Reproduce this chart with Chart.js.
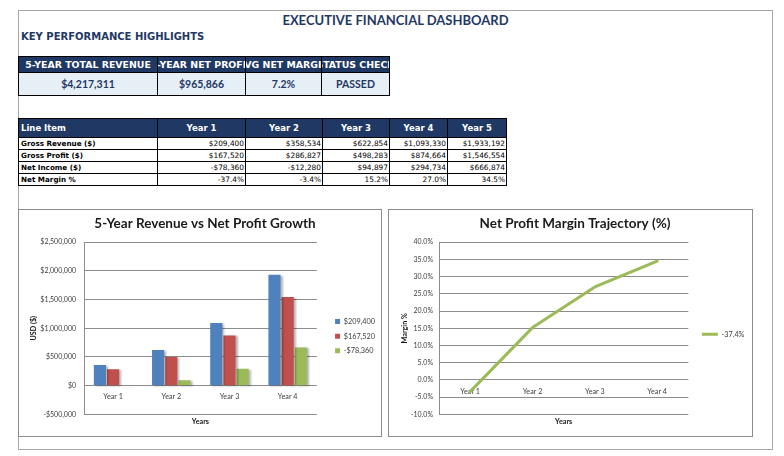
<!DOCTYPE html>
<html><head><meta charset="utf-8">
<script src="https://cdn.jsdelivr.net/npm/chart.js@4.4.1/dist/chart.umd.min.js"></script>
<style>
html,body{margin:0;padding:0;background:#fff;}
body{width:784px;height:456px;overflow:hidden;position:relative;font-family:"DejaVu Sans",sans-serif;}
#frame{position:absolute;left:18px;top:10px;width:755px;height:440px;border:1px solid #a6a6a6;box-sizing:border-box;}
#mainTitle{position:absolute;left:18px;width:755px;top:11px;text-align:center;font-family:Lato,sans-serif;font-weight:bold;font-size:13px;color:#1f3864;line-height:18px;}
#kpiTitle{position:absolute;left:21px;top:30px;font-family:"DejaVu Sans",sans-serif;font-weight:bold;font-size:10px;color:#1f3864;line-height:14px;}
.cell{position:absolute;box-sizing:border-box;border:1px solid #000;overflow:hidden;white-space:nowrap;}
.chartbox{position:absolute;border:1px solid #8c8c8c;box-sizing:border-box;background:#fff;}
canvas{position:absolute;left:0;top:0;}
</style>
</head><body>
<div id="frame"></div>
<div id="mainTitle">EXECUTIVE FINANCIAL DASHBOARD</div>
<div id="kpiTitle">KEY PERFORMANCE HIGHLIGHTS</div>
<div id="tables"></div>
<div class="chartbox" style="left:18px;top:209px;width:364px;height:228px;"><canvas id="c1" width="362" height="226"></canvas></div>
<div class="chartbox" style="left:388px;top:209px;width:365px;height:228px;"><canvas id="c2" width="363" height="226"></canvas></div>
<script>
// ---------- data ----------
const kpiHeaders = ['5-YEAR TOTAL REVENUE', '5-YEAR NET PROFIT', 'AVG NET MARGIN', 'STATUS CHECK'];
const kpiValues = ['$4,217,311', '$965,866', '7.2%', 'PASSED'];

const tableYears = ['Year 1', 'Year 2', 'Year 3', 'Year 4', 'Year 5'];
const rowLabels = ['Gross Revenue ($)', 'Gross Profit ($)', 'Net Income ($)', 'Net Margin %'];
const grossRevenueText = ['$209,400', '$358,534', '$622,854', '$1,093,330', '$1,933,192'];
const grossProfitText = ['$167,520', '$286,827', '$498,283', '$874,664', '$1,546,554'];
const netIncomeText = ['-$78,360', '-$12,280', '$94,897', '$294,734', '$666,874'];
const netMarginText = ['-37.4%', '-3.4%', '15.2%', '27.0%', '34.5%'];

const categories = ['Year 1', 'Year 2', 'Year 3', 'Year 4'];
const seriesNames = ['$209,400', '$167,520', '-$78,360'];
const revenueSeries = [358534, 622854, 1093330, 1933192];
const grossProfitSeries = [286827, 498283, 874664, 1546554];
const netIncomeSeries = [-12280, 94897, 294734, 666874];
const marginName = '-37.4%';
const marginSeries = [-3.4, 15.2, 27.0, 34.5];

// ---------- tables ----------
const NAVY = '#1f3864';
const host = document.getElementById('tables');
function cell(x0, x1, y0, y1, text, st) {
  const d = document.createElement('div');
  d.className = 'cell';
  d.style.left = x0 + 'px'; d.style.top = y0 + 'px';
  d.style.width = (x1 - x0 + 1) + 'px'; d.style.height = (y1 - y0 + 1) + 'px';
  d.style.lineHeight = (y1 - y0 - 1) + 'px';
  Object.assign(d.style, st || {});
  const s = document.createElement('span');
  s.textContent = text;
  d.appendChild(s);
  host.appendChild(d);
  return d;
}
const kpiCols = [18, 157, 245, 321, 389];
for (let i = 0; i < 4; i++) {
  const h = cell(kpiCols[i], kpiCols[i + 1], 56, 72, kpiHeaders[i], {background: NAVY, color: '#fff', fontWeight: 'bold', fontSize: '9.4px', fontFamily: '"DejaVu Sans",sans-serif', textAlign: 'center'});
  h.firstChild.style.cssText = 'position:absolute;left:50%;transform:translateX(-50%);';
  cell(kpiCols[i], kpiCols[i + 1], 72, 95, kpiValues[i], {background: '#e6eef6', color: NAVY, fontWeight: 'bold', fontSize: '10.5px', fontFamily: 'Lato,sans-serif', textAlign: 'center'});
}
const tCols = [18, 157, 245, 322, 389, 447, 506];
const tRows = [118, 137, 149, 161, 173, 185];
const HFONT = '"DejaVu Sans",sans-serif';
cell(tCols[0], tCols[1], tRows[0], tRows[1], 'Line Item', {background: NAVY, color: '#fff', fontWeight: 'bold', fontSize: '8.5px', fontFamily: HFONT, paddingLeft: '2px'});
for (let j = 0; j < 5; j++) {
  cell(tCols[j + 1], tCols[j + 2], tRows[0], tRows[1], tableYears[j], {background: NAVY, color: '#fff', fontWeight: 'bold', fontSize: '8.5px', fontFamily: HFONT, textAlign: 'center'});
}
const rowTexts = [grossRevenueText, grossProfitText, netIncomeText, netMarginText];
for (let r = 0; r < 4; r++) {
  cell(tCols[0], tCols[1], tRows[r + 1], tRows[r + 2], rowLabels[r], {color: '#000', fontWeight: 'bold', fontSize: '7.2px', fontFamily: HFONT, paddingLeft: '2px'});
  for (let j = 0; j < 5; j++) {
    cell(tCols[j + 1], tCols[j + 2], tRows[r + 1], tRows[r + 2], rowTexts[r][j], {color: '#000', fontSize: '7.4px', fontFamily: HFONT, textAlign: 'right', paddingRight: '1px'});
  }
}

// ---------- charts ----------
const FONT = 'Lato, "Liberation Sans", sans-serif';
const TICKCOL = '#404040';
const GRID = '#8c8c8c';
const shadowPlugin = {
  id: 'barShadow',
  beforeDatasetsDraw(chart) {
    const ctx = chart.ctx; ctx.save();
    ctx.shadowColor = 'rgba(0,0,0,0.30)'; ctx.shadowBlur = 2; ctx.shadowOffsetX = 2; ctx.shadowOffsetY = 1;
  },
  afterDatasetsDraw(chart) { chart.ctx.restore(); }
};
function money(v) {
  const s = '$' + Math.abs(v).toLocaleString('en-US');
  return v < 0 ? '-' + s : s;
}

new Chart(document.getElementById('c1'), {
  type: 'bar',
  data: {
    labels: categories,
    datasets: [
      {label: seriesNames[0], data: revenueSeries, backgroundColor: '#4f81bd', borderWidth: 0},
      {label: seriesNames[1], data: grossProfitSeries, backgroundColor: '#c0504d', borderWidth: 0},
      {label: seriesNames[2], data: netIncomeSeries, backgroundColor: '#9bbb59', borderWidth: 0}
    ]
  },
  plugins: [shadowPlugin],
  options: {
    responsive: false, animation: false, devicePixelRatio: 1,
    categoryPercentage: 0.68, barPercentage: 0.92,
    layout: {padding: {left: 6, right: -4, top: 0, bottom: 6}},
    plugins: {
      title: {display: true, text: '5-Year Revenue vs Net Profit Growth', color: '#1a1a1a', font: {family: FONT, size: 13.5, weight: 'bold'}, padding: {top: 6, bottom: 10}},
      legend: {position: 'right', title: {display: true, text: '', padding: {top: 24, bottom: 0}, font: {size: 7}},
               labels: {boxWidth: 5, boxHeight: 5, padding: 7.3, color: TICKCOL, font: {family: FONT, size: 7.3}}},
      tooltip: {enabled: false}
    },
    scales: {
      x: {type: 'category', position: {y: 0}, grid: {display: false, drawTicks: false}, border: {display: false}, ticks: {padding: 7, color: TICKCOL, font: {family: FONT, size: 7.2}}},
      x2: {type: 'category', position: 'bottom', grid: {display: false, drawTicks: false}, border: {display: false}, ticks: {display: false}, title: {display: true, text: 'Years', color: '#1a1a1a', font: {family: FONT, size: 7.2, weight: 'bold'}, padding: {top: 3, bottom: 4}}},
      y: {min: -500000, max: 2500000, grid: {color: GRID, drawTicks: false}, border: {display: true, color: GRID},
          ticks: {stepSize: 500000, padding: 8, color: TICKCOL, font: {family: FONT, size: 7}, callback: v => money(v)},
          title: {display: true, text: 'USD ($)', color: '#1a1a1a', font: {family: FONT, size: 7.2, weight: 'bold'}, padding: {top: 4, bottom: 4}},
          afterFit(s) { s.width = 59; }},
      gap: {type: 'linear', position: 'right', grid: {display: false, drawTicks: false}, border: {display: false}, ticks: {display: false}, afterFit(s) { s.width = 11; }}
    }
  }
});

new Chart(document.getElementById('c2'), {
  type: 'line',
  data: {
    labels: categories,
    datasets: [
      {label: marginName, data: marginSeries, borderColor: '#9bbb59', backgroundColor: '#9bbb59', borderWidth: 3, pointRadius: 0, tension: 0, borderCapStyle: 'round', borderJoinStyle: 'round'}
    ]
  },
  options: {
    responsive: false, animation: false, devicePixelRatio: 1,
    layout: {padding: {left: 7, right: -2, top: 0, bottom: 6}},
    plugins: {
      title: {display: true, text: 'Net Profit Margin Trajectory (%)', color: '#1a1a1a', font: {family: FONT, size: 13.5, weight: 'bold'}, padding: {top: 6, bottom: 10}},
      legend: {position: 'right', title: {display: true, text: '', padding: {top: 20, bottom: 0}, font: {size: 7}},
               labels: {usePointStyle: true, pointStyle: 'line', pointStyleWidth: 16, boxHeight: 7, padding: 7.5, color: TICKCOL, font: {family: FONT, size: 7.3}}},
      tooltip: {enabled: false}
    },
    scales: {
      x: {type: 'category', offset: true, position: {y: 0}, grid: {display: false, drawTicks: false}, border: {display: false}, ticks: {padding: 7, color: TICKCOL, font: {family: FONT, size: 7.2}}},
      x2: {type: 'category', position: 'bottom', grid: {display: false, drawTicks: false}, border: {display: false}, ticks: {display: false}, title: {display: true, text: 'Years', color: '#1a1a1a', font: {family: FONT, size: 7.2, weight: 'bold'}, padding: {top: 3, bottom: 4}}},
      y: {min: -10, max: 40, grid: {color: GRID, drawTicks: false}, border: {display: true, color: GRID},
          ticks: {stepSize: 5, padding: 6, color: TICKCOL, font: {family: FONT, size: 7}, callback: v => v.toFixed(1) + '%'},
          title: {display: true, text: 'Margin %', color: '#1a1a1a', font: {family: FONT, size: 7.2, weight: 'bold'}, padding: {top: 4, bottom: 4}},
          afterFit(s) { s.width = 43; }},
      gap: {type: 'linear', position: 'right', grid: {display: false, drawTicks: false}, border: {display: false}, ticks: {display: false}, afterFit(s) { s.width = 6; }}
    }
  }
});
</script>
</body></html>
